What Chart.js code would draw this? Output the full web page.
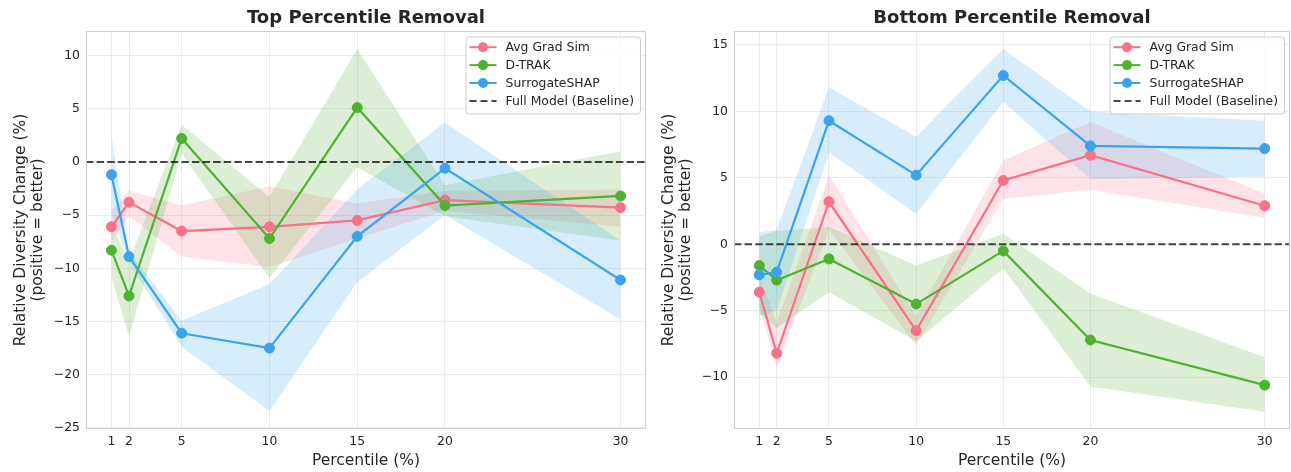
<!DOCTYPE html>
<html>
<head>
<meta charset="utf-8">
<title>Percentile Removal</title>
<script src="https://cdn.jsdelivr.net/npm/chart.js@4.4.1/dist/chart.umd.min.js"></script>
<style>
    html, body { margin: 0; padding: 0; background: #ffffff; }
    #wrap { position: relative; width: 1291px; height: 472px; }
    .panel { position: absolute; top: 0; height: 472px; }
    #topPanel { left: 0; width: 648px; }
    #bottomPanel { left: 648px; width: 643px; }
</style>
</head>
<body>
<div id="wrap">
    <div class="panel" id="topPanel"><canvas id="topChart"></canvas></div>
    <div class="panel" id="bottomPanel"><canvas id="bottomChart"></canvas></div>
</div>
<script>

// ==========================================
// Data
// ==========================================

const PERCENTILES = [1, 2, 5, 10, 15, 20, 30];
const X_TICKS = [1, 2, 5, 10, 15, 20, 30];

const METHODS = ["Avg Grad Sim", "D-TRAK", "SurrogateSHAP"];
const COLORS = ["#f77189", "#50b131", "#3ba3ec"];
const BAND_COLORS = ["rgba(247,113,137,0.2)", "rgba(80,177,49,0.2)", "rgba(59,163,236,0.2)"];

const BASELINE_LABEL = "Full Model (Baseline)";
const BASELINE_VALUE = 0;

// Top percentile removal
const topAvgMean   = [-6.1, -3.8, -6.5, -6.1, -5.5, -3.6, -4.3];
const topAvgUpper  = [-4.6, -2.7, -4.1, -2.3, -3.9, -2.7, -2.6];
const topAvgLower  = [-7.4, -5.1, -8.9, -9.9, -7.2, -4.6, -6.1];

const topDtrakMean  = [-8.3, -12.6, 2.2, -7.2, 5.1, -4.1, -3.2];
const topDtrakUpper = [-6.0, -9.3, 3.5, -3.3, 10.6, -2.2, 1.0];
const topDtrakLower = [-10.9, -16.4, 0.8, -10.9, -0.5, -5.1, -7.4];

const topShapMean  = [-1.2, -8.9, -16.1, -17.5, -7.0, -0.6, -11.1];
const topShapUpper = [2.5, -8.4, -14.9, -11.5, -2.6, 3.7, -7.4];
const topShapLower = [-4.9, -9.4, -17.4, -23.4, -11.3, -5.0, -14.8];

const TOP_Y_TICKS = [-25, -20, -15, -10, -5, 0, 5, 10];

// Bottom percentile removal
const bottomAvgMean  = [-3.6, -8.2, 3.2, -6.5, 4.8, 6.7, 2.9];
const bottomAvgUpper = [-2.4, -5.9, 5.2, -5.4, 6.3, 9.2, 3.8];
const bottomAvgLower = [-4.6, -9.3, 1.1, -7.6, 3.4, 4.1, 2.0];

const bottomDtrakMean  = [-1.6, -2.7, -1.1, -4.5, -0.5, -7.2, -10.6];
const bottomDtrakUpper = [0.6, 1.0, 1.3, -1.6, 0.8, -3.7, -8.5];
const bottomDtrakLower = [-5.2, -6.3, -3.6, -7.3, -1.8, -10.7, -12.6];

const bottomShapMean  = [-2.3, -2.1, 9.3, 5.2, 12.7, 7.4, 7.2];
const bottomShapUpper = [0.9, 1.1, 11.8, 8.1, 14.7, 10.0, 9.3];
const bottomShapLower = [-5.4, -5.0, 6.9, 2.3, 10.7, 4.9, 5.1];

const BOTTOM_Y_TICKS = [-10, -5, 0, 5, 10, 15];


// ==========================================
// Helpers
// ==========================================

const FONT = "'DejaVu Sans', 'Liberation Sans', sans-serif";
const TEXT_COLOR = "#262626";

Chart.defaults.font.family = FONT;
Chart.defaults.color = TEXT_COLOR;

function toPoints(values) {

    return PERCENTILES.map((p, i) => ({ x: p, y: values[i] }));

}

function minusLabel(value) {

    return value < 0 ? "\u2212" + Math.abs(value) : String(value);

}

// bands sit under every line, lines stack in method order
function buildDatasets(series) {

    const bands = [];
    const lines = [];

    let bandOrder = 100;
    let lineOrder = series.length;

    series.forEach((s, i) => {

        bands.push({
            label: METHODS[i] + " upper",
            data: toPoints(s.upper),
            borderWidth: 0,
            pointRadius: 0,
            backgroundColor: BAND_COLORS[i],
            fill: "+1",
            order: bandOrder--
        });

        bands.push({
            label: METHODS[i] + " lower",
            data: toPoints(s.lower),
            borderWidth: 0,
            pointRadius: 0,
            fill: false,
            order: bandOrder--
        });

        lines.push({
            label: METHODS[i],
            data: toPoints(s.mean),
            borderColor: COLORS[i],
            backgroundColor: COLORS[i],
            borderWidth: 2.2,
            pointRadius: 5,
            pointBorderWidth: 1,
            pointBorderColor: COLORS[i],
            pointBackgroundColor: COLORS[i],
            fill: false,
            order: lineOrder--
        });

    });

    return bands.concat(lines);

}


// ==========================================
// Overlay: baseline, frame, legend
// ==========================================

const overlay = {

    id: "overlay",

    afterDatasetsDraw(chart) {

        const ctx = chart.ctx;
        const area = chart.chartArea;
        const yScale = chart.scales.y;

        ctx.save();

        // baseline
        const by = yScale.getPixelForValue(BASELINE_VALUE);
        ctx.strokeStyle = "rgba(0,0,0,0.72)";
        ctx.lineWidth = 2;
        ctx.setLineDash([7.4, 3.2]);
        ctx.beginPath();
        ctx.moveTo(area.left, by);
        ctx.lineTo(area.right, by);
        ctx.stroke();
        ctx.setLineDash([]);

        // frame
        ctx.strokeStyle = "#d0d0d0";
        ctx.lineWidth = 1;
        ctx.strokeRect(area.left + 0.5, area.top + 0.5,
            area.right - area.left - 1, area.bottom - area.top - 1);

        // legend
        ctx.font = "12.4px " + FONT;
        const labels = METHODS.concat([BASELINE_LABEL]);
        const textW = Math.max(...labels.map(l => ctx.measureText(l).width));
        const w = textW + 46;
        const h = 77;
        const x = area.right - 6 - w;
        const y = area.top + 5.5;

        ctx.beginPath();
        ctx.roundRect(x + 0.5, y + 0.5, w, h, 3);
        ctx.fillStyle = "rgba(255,255,255,0.8)";
        ctx.fill();
        ctx.strokeStyle = "#cccccc";
        ctx.stroke();

        ctx.textBaseline = "middle";
        ctx.textAlign = "left";

        labels.forEach((label, i) => {

            const ry = y + 10.7 + i * 17.9;

            if (i < METHODS.length) {

                ctx.strokeStyle = COLORS[i];
                ctx.lineWidth = 2;
                ctx.beginPath();
                ctx.moveTo(x + 4, ry);
                ctx.lineTo(x + 31, ry);
                ctx.stroke();

                ctx.fillStyle = COLORS[i];
                ctx.beginPath();
                ctx.arc(x + 17.5, ry, 5, 0, Math.PI * 2);
                ctx.fill();

            } else {

                ctx.strokeStyle = "rgba(0,0,0,0.72)";
                ctx.lineWidth = 2;
                ctx.setLineDash([7, 4]);
                ctx.beginPath();
                ctx.moveTo(x + 4, ry);
                ctx.lineTo(x + 31, ry);
                ctx.stroke();
                ctx.setLineDash([]);

            }

            ctx.fillStyle = TEXT_COLOR;
            ctx.fillText(label, x + 40, ry + 0.5);

        });

        ctx.restore();

    }

};


// ==========================================
// Panel
// ==========================================

function renderPanel(canvasId, title, series, yMin, yMax, yTicks, rightPad) {

    const ctx = document.getElementById(canvasId).getContext("2d");

    return new Chart(ctx, {

        type: "line",

        data: {
            datasets: buildDatasets(series)
        },

        options: {

            responsive: true,
            maintainAspectRatio: false,
            animation: false,
            events: [],

            layout: {
                autoPadding: false,
                padding: { left: 0, right: rightPad, top: 0, bottom: 0 }
            },

            plugins: {

                legend: { display: false },
                tooltip: { enabled: false },

                title: {
                    display: true,
                    text: title,
                    fullSize: false,
                    color: TEXT_COLOR,
                    font: { size: 18, weight: "bold", lineHeight: 1.2 },
                    padding: { top: 7.5, bottom: 1.9 }
                }

            },

            scales: {

                x: {
                    type: "linear",
                    min: -0.45,
                    max: 31.45,
                    afterBuildTicks: scale => {
                        scale.ticks = X_TICKS.map(v => ({ value: v }));
                    },
                    afterFit: scale => {
                        scale.height = 43;
                        scale.paddingLeft = 0;
                        scale.paddingRight = 0;
                    },
                    grid: { color: "#ebebeb", drawTicks: false },
                    border: { display: false },
                    ticks: {
                        autoSkip: false,
                        maxRotation: 0,
                        padding: 5,
                        color: TEXT_COLOR,
                        font: { size: 12.4 },
                        callback: v => minusLabel(v)
                    },
                    title: {
                        display: true,
                        text: "Percentile (%)",
                        color: TEXT_COLOR,
                        font: { size: 15.5, lineHeight: 1.1 },
                        padding: { top: 0, bottom: 2.5 }
                    }
                },

                y: {
                    type: "linear",
                    min: yMin,
                    max: yMax,
                    afterBuildTicks: scale => {
                        scale.ticks = yTicks.map(v => ({ value: v }));
                    },
                    afterFit: scale => {
                        scale.width = 86;
                    },
                    grid: { color: "#ebebeb", drawTicks: false },
                    border: { display: false },
                    ticks: {
                        padding: 6,
                        color: TEXT_COLOR,
                        font: { size: 12.4 },
                        callback: v => minusLabel(v)
                    },
                    title: {
                        display: true,
                        text: ["Relative Diversity Change (%)", "(positive = better)"],
                        color: TEXT_COLOR,
                        font: { size: 15.5, lineHeight: 1.1 },
                        padding: { top: 12.5, bottom: 0 }
                    }
                }

            }

        },

        plugins: [overlay]

    });

}


// ==========================================
// Render
// ==========================================

renderPanel("topChart", "Top Percentile Removal", [
    { mean: topAvgMean, upper: topAvgUpper, lower: topAvgLower },
    { mean: topDtrakMean, upper: topDtrakUpper, lower: topDtrakLower },
    { mean: topShapMean, upper: topShapUpper, lower: topShapLower }
], -25.1, 12.3, TOP_Y_TICKS, 2);

renderPanel("bottomChart", "Bottom Percentile Removal", [
    { mean: bottomAvgMean, upper: bottomAvgUpper, lower: bottomAvgLower },
    { mean: bottomDtrakMean, upper: bottomDtrakUpper, lower: bottomDtrakLower },
    { mean: bottomShapMean, upper: bottomShapUpper, lower: bottomShapLower }
], -13.9, 16.05, BOTTOM_Y_TICKS, 1);

</script>
</body>
</html>
